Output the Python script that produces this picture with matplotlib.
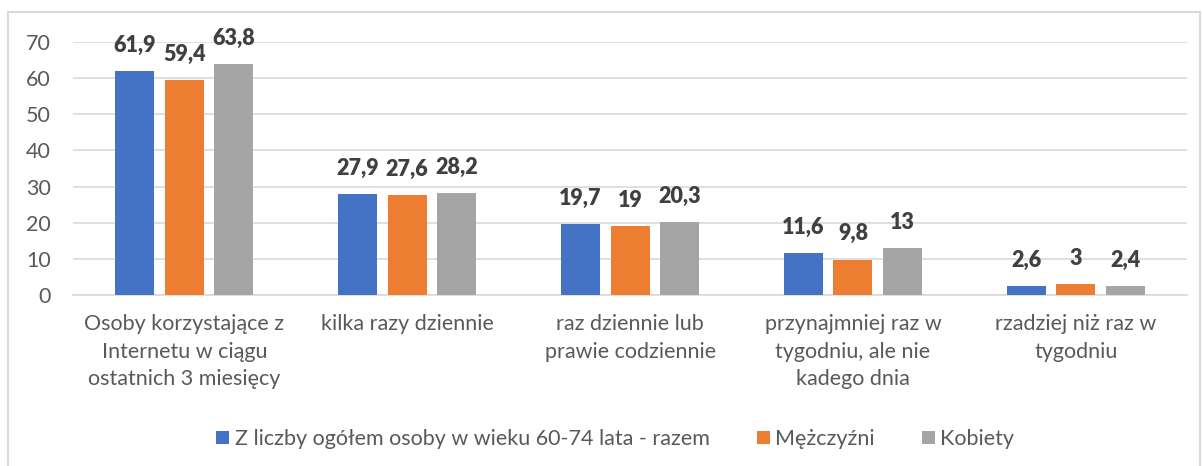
import numpy as np
import matplotlib.pyplot as plt
from matplotlib.patches import Rectangle

# data
categories = ['Osoby korzystające z\nInternetu w ciągu\nostatnich 3 miesięcy',
              'kilka razy dziennie',
              'raz dziennie lub\nprawie codziennie',
              'przynajmniej raz w\ntygodniu, ale nie\nkadego dnia',
              'rzadziej niż raz w\ntygodniu']
series_names = ['Z liczby ogółem osoby w wieku 60-74 lata - razem', 'Mężczyźni', 'Kobiety']
razem = [61.9, 27.9, 19.7, 11.6, 2.6]
mezczyzni = [59.4, 27.6, 19.0, 9.8, 3.0]
kobiety = [63.8, 28.2, 20.3, 13.0, 2.4]
yticks = [0, 10, 20, 30, 40, 50, 60, 70]

colors = ['#4472c4', '#ed7d31', '#a5a5a5']

plt.rcParams['font.family'] = ['Lato', 'DejaVu Sans']

fig = plt.figure(figsize=(12.02, 4.66), dpi=100)
ax = fig.add_axes([0.0607, 0.367, 0.927, 0.543])

x = np.arange(len(categories))
width = 0.175
step = 0.222

def fmt(v):
    s = ('%.1f' % v).rstrip('0').rstrip('.')
    return s.replace('.', ',')

for k, vals in enumerate([razem, mezczyzni, kobiety]):
    pos = x + (k - 1) * step
    bars = ax.bar(pos, vals, width, color=colors[k], label=series_names[k], zorder=3)
    for b, v in zip(bars, vals):
        ax.text(b.get_x() + b.get_width() / 2, v + 5.3, fmt(v),
                ha='center', va='baseline', fontsize=15.5, fontweight='heavy', color='#404040')

ax.set_xlim(-0.5, len(categories) - 0.5)
ax.set_ylim(0, 70)
ax.set_yticks(yticks)
ax.set_xticks(x)
ax.set_xticklabels(categories, fontsize=15.5, color='#595959', linespacing=1.45)
ax.tick_params(axis='y', labelsize=15.5, labelcolor='#595959', length=0, pad=16)
ax.tick_params(axis='x', length=0, pad=14)
ax.yaxis.grid(True, color='#d9d9d9', linewidth=1.2, zorder=0)
for s in ['top', 'right', 'left']:
    ax.spines[s].set_visible(False)
ax.spines['bottom'].set_color('#d9d9d9')
ax.spines['bottom'].set_linewidth(1.2)

fig.legend(loc='center', bbox_to_anchor=(0.512, 0.058), ncol=3, frameon=False,
           fontsize=15.5, labelcolor='#595959', handlelength=0.6, handleheight=0.6,
           handletextpad=0.25, columnspacing=2.2)

fig.patches.append(Rectangle((8 / 1202, -0.01), 1192 / 1202, 1 - 12 / 466 + 0.01,
                             transform=fig.transFigure, fill=False,
                             edgecolor='#d9d9d9', linewidth=1.5))

fig.savefig('out.png', dpi=100)
